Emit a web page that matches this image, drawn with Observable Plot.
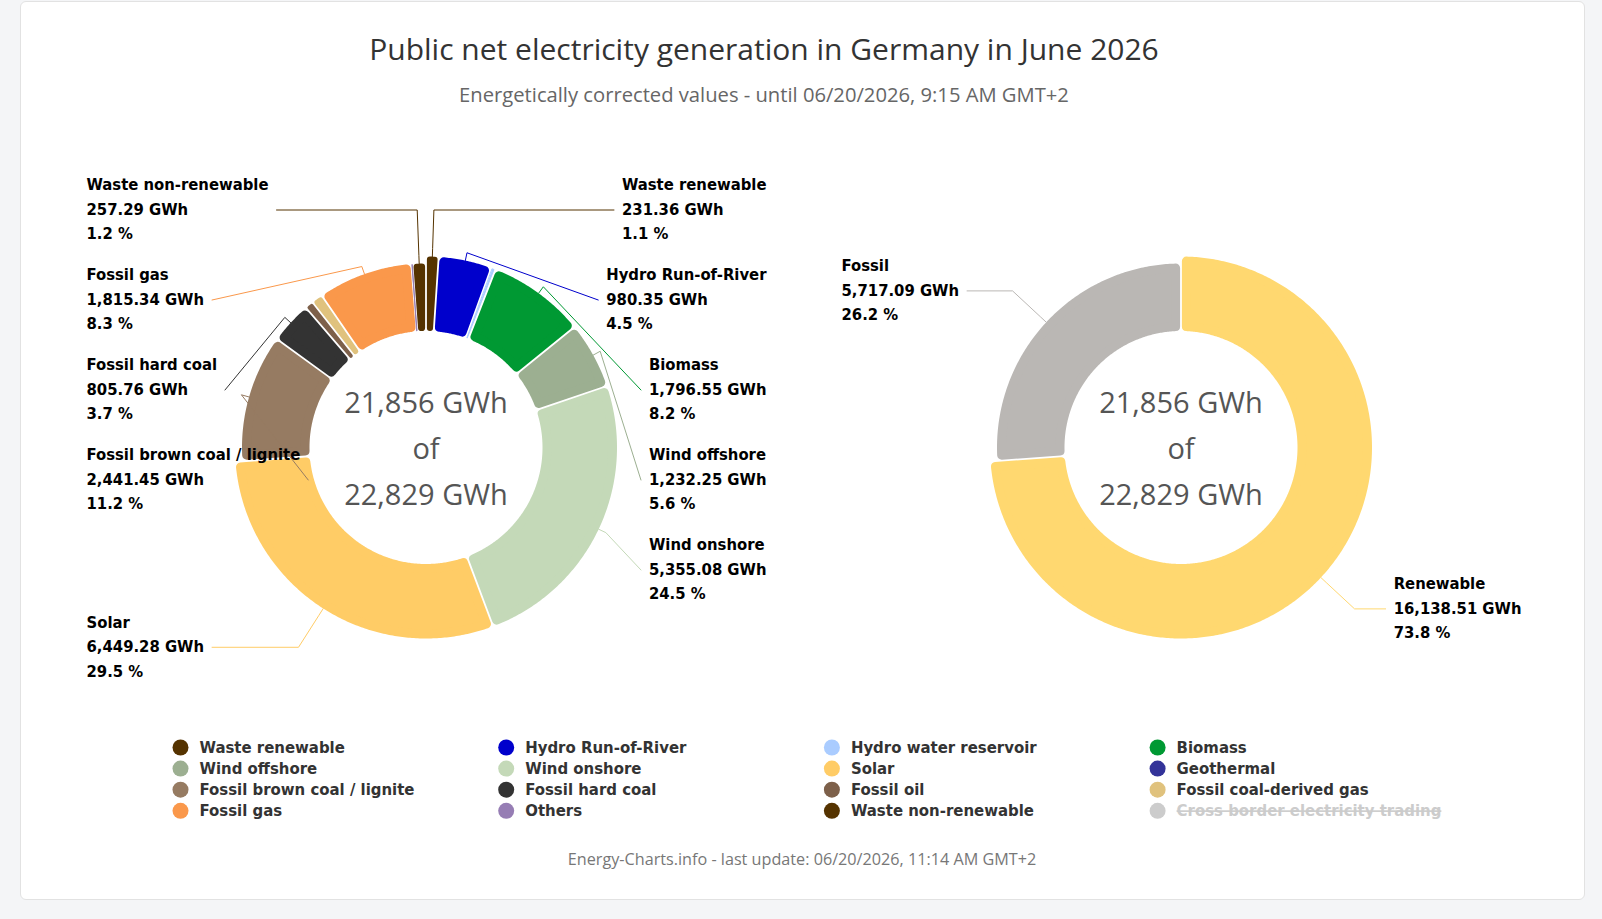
<!DOCTYPE html>
<html>
<head>
<meta charset="utf-8">
<script src="https://cdn.jsdelivr.net/npm/d3@7"></script>
<script src="https://cdn.jsdelivr.net/npm/@observablehq/plot@0.6"></script>
<style>
html, body { margin: 0; padding: 0; width: 1602px; height: 919px; overflow: hidden; background: #f4f5f7; }
#card { position: absolute; left: 20px; top: 1px; width: 1565px; height: 899px; background: #fff; border: 1px solid #e2e2e2; border-radius: 6px; box-sizing: border-box; }
#title { position: absolute; left: 0; width: 1528px; top: 29px; line-height: 40px; text-align: center; font-family: "Open Sans", sans-serif; font-size: 30px; color: #333; white-space: nowrap; }
#subtitle { position: absolute; left: 0; width: 1528px; top: 80px; line-height: 28px; text-align: center; font-family: "Open Sans", sans-serif; font-size: 20.2px; color: #666; white-space: nowrap; }
#chart { position: absolute; left: 0; top: 130px; }
#caption { position: absolute; left: 0; width: 1604px; top: 848px; line-height: 22px; text-align: center; font-family: "Open Sans", sans-serif; font-size: 16.2px; color: #777; white-space: nowrap; }
</style>
</head>
<body>
<div id="card"></div>
<div id="title">Public net electricity generation in Germany in June 2026</div>
<div id="subtitle">Energetically corrected values - until 06/20/2026, 9:15 AM GMT+2</div>
<div id="chart"></div>
<div id="caption">Energy-Charts.info - last update: 06/20/2026, 11:14 AM GMT+2</div>
<script>
// ---------------- data ----------------
const categories = ["Waste renewable", "Hydro Run-of-River", "Hydro water reservoir", "Biomass", "Wind offshore", "Wind onshore", "Solar", "Geothermal", "Fossil brown coal / lignite", "Fossil hard coal", "Fossil oil", "Fossil coal-derived gas", "Fossil gas", "Others", "Waste non-renewable"];
const generationGWh = [231.36, 980.35, 83.54, 1796.55, 1232.25, 5355.08, 6449.28, 10.10, 2441.45, 805.76, 162.00, 215.00, 1815.34, 20.65, 257.29];
const isRenewable = [1, 1, 1, 1, 1, 1, 1, 1, 0, 0, 0, 0, 0, 0, 0];
const sliceColors = ["#553300", "#0000cc", "#aaccff", "#009933", "#9caf91", "#c4d9b8", "#ffcc66", "#333399", "#967b62", "#333333", "#7d604a", "#e0c27d", "#fa984b", "#967db4", "#553300"];

const groupNames = ["Renewable", "Fossil"];
const groupGWh = [16138.51, 5717.09];
const groupIsRenewable = [1, 0];
const groupColors = ["#ffd870", "#bab7b4"];

const totalWithTradingGWh = 22829;

const legendNames = ["Waste renewable", "Hydro Run-of-River", "Hydro water reservoir", "Biomass",
  "Wind offshore", "Wind onshore", "Solar", "Geothermal",
  "Fossil brown coal / lignite", "Fossil hard coal", "Fossil oil", "Fossil coal-derived gas",
  "Fossil gas", "Others", "Waste non-renewable", "Cross border electricity trading"];
const legendColors = ["#553300", "#0000cc", "#aaccff", "#009933",
  "#9caf91", "#c4d9b8", "#ffcc66", "#333399",
  "#967b62", "#333333", "#7d604a", "#e0c27d",
  "#fa984b", "#967db4", "#553300", "#cccccc"];
const legendHidden = ["Cross border electricity trading"];

// ---------------- layout / style ----------------
const W = 1602, TOP = 130, H = 712;
const R_IN = 116.5, R_REN = 191, R_FOS = 184;
const GAP = 1.8, CORNER = 4.5;
const LABEL_DIST = 46, BREAK = 8, LABEL_STEP = 90, LABEL_MIN_Y = 209.5, LABEL_MAX_Y = 700;
const LABEL_FS = 16.5, LABEL_FAMILY = "DejaVu Sans Condensed";
const LABEL_FONT = `bold ${LABEL_FS}px "${LABEL_FAMILY}"`;
const LEG_X0 = 180, LEG_DX = 325.7, LEG_Y0 = 747, LEG_DY = 21.1;

const fmtV = d3.format(",.2f"), fmtP = d3.format(".1f"), fmtT = d3.format(",.0f");

const ctx = document.createElement("canvas").getContext("2d");
function textWidth(s, font) { ctx.font = font; return ctx.measureText(s).width; }

const charts = [
  { cx: 425.5, cy: 447, left: 86, right: 766,
    items: categories.map((name, i) => ({ name, value: generationGWh[i], color: sliceColors[i], ro: isRenewable[i] ? R_REN : R_FOS })) },
  { cx: 1180.5, cy: 447, left: 841, right: 1521,
    items: groupNames.map((name, i) => ({ name, value: groupGWh[i], color: groupColors[i], ro: groupIsRenewable[i] ? R_REN : R_FOS })) }
];

function slicePolygon(cx, cy, a0, a1, ri, ro) {
  const span = a1 - a0;
  const innerWidth = span * ri - GAP;
  let c = Math.max(0.5, Math.min(CORNER, innerWidth / 2));
  let collapsed = false;
  const rO = ro - c, rI = ri + c;
  const bounds = rho => {
    const d = (GAP / 2 + c) / rho;
    let b0 = a0 + d, b1 = a1 - d;
    if (b1 < b0) { b0 = b1 = (a0 + a1) / 2; collapsed = true; }
    return [b0, b1];
  };
  const [o0, o1] = bounds(rO), [i0, i1] = bounds(rI);
  const n = Math.max(1, Math.ceil(span * ro / 2));
  const pts = [];
  for (let k = 0; k <= n; k++) { const a = o0 + (o1 - o0) * k / n; pts.push({ x: cx + rO * Math.sin(a), y: cy - rO * Math.cos(a) }); }
  for (let k = n; k >= 0; k--) { const a = i0 + (i1 - i0) * k / n; pts.push({ x: cx + rI * Math.sin(a), y: cy - rI * Math.cos(a) }); }
  let sw = 2 * c;
  if (collapsed && innerWidth < 0) sw = Math.min(1, span * ro * 0.9);
  return { pts, sw };
}

function distribute(list, minY, maxY, size) {
  list.sort((a, b) => a.ny - b.ny);
  const groups = list.map(d => ({ items: [d] }));
  const place = g => {
    const mean = d3.mean(g.items, d => d.ny);
    let p = mean - (g.items.length - 1) * size / 2;
    p = Math.max(minY, Math.min(maxY - (g.items.length - 1) * size, p));
    g.pos = p;
  };
  groups.forEach(place);
  let merged = true;
  while (merged) {
    merged = false;
    for (let i = 0; i < groups.length - 1; i++) {
      const a = groups[i], b = groups[i + 1];
      if (a.pos + a.items.length * size > b.pos + 1e-6) {
        a.items = a.items.concat(b.items); groups.splice(i + 1, 1); place(a); merged = true; break;
      }
    }
  }
  groups.forEach(g => g.items.forEach((d, k) => d.y = g.pos + k * size));
}

const sliceMarks = [], connectorMarks = [], labelRows = [], centerRows = [];

charts.forEach(ch => {
  const total = d3.sum(ch.items, d => d.value);
  const arcs = d3.pie().sort(null).value(d => d.value)(ch.items);
  arcs.forEach(a => {
    const { pts, sw } = slicePolygon(ch.cx, ch.cy, a.startAngle, a.endAngle, R_IN, a.data.ro);
    if (sw < 0.6) return;
    sliceMarks.push(Plot.line(pts, { x: "x", y: "y", curve: "linear-closed", fill: a.data.color, stroke: a.data.color, strokeWidth: sw, strokeLinejoin: "round" }));
  });
  const labs = arcs.filter(a => a.data.value / total * 100 >= 1).map(a => {
    const m = (a.startAngle + a.endAngle) / 2, s = Math.sin(m), co = Math.cos(m), r = a.data.ro, R = r + LABEL_DIST;
    return { arc: a, s, co, r, ny: ch.cy - R * co, side: s >= 0 ? "right" : "left",
      lines: [a.data.name, fmtV(a.data.value) + " GWh", fmtP(a.data.value / total * 100) + " %"] };
  });
  for (const side of ["left", "right"]) distribute(labs.filter(d => d.side === side), LABEL_MIN_Y, LABEL_MAX_Y, LABEL_STEP);
  labs.forEach(d => {
    const w = d3.max(d.lines, l => textWidth(l, LABEL_FONT));
    const bx = d.side === "left" ? ch.left : ch.right - w;
    const ax = d.side === "left" ? bx + w + 8 : bx - 8;
    const brk = { x: ch.cx + (d.r + BREAK) * d.s, y: ch.cy - (d.r + BREAK) * d.co };
    const touch = { x: ch.cx + d.r * d.s, y: ch.cy - d.r * d.co };
    const path = [{ x: ax, y: d.y }];
    const t = (ch.cy - d.y) / d.co;
    if (t > d.r + BREAK) {
      const kx = ch.cx + t * d.s;
      if (d.side === "left" ? (kx >= ax && kx <= brk.x) : (kx <= ax && kx >= brk.x)) path.push({ x: kx, y: d.y });
    }
    path.push(brk, touch);
    connectorMarks.push(Plot.line(path, { x: "x", y: "y", stroke: d.arc.data.color, strokeWidth: 1, curve: "linear" }));
    labelRows.push({ x: bx, y: d.y, text: d.lines.join("\n") });
  });
  centerRows.push({ x: ch.cx, y: ch.cy - 3.5, text: fmtT(total) + " GWh\nof\n" + fmtT(totalWithTradingGWh) + " GWh" });
});

const legendRows = legendNames.map((name, i) => ({
  name, color: legendColors[i],
  x: LEG_X0 + (i % 4) * LEG_DX, y: LEG_Y0 + Math.floor(i / 4) * LEG_DY,
  hidden: legendHidden.includes(name)
}));

const plot = Plot.plot({
  width: W, height: H, margin: 0,
  style: { background: "none", overflow: "visible" },
  x: { domain: [0, W], range: [0, W], axis: null },
  y: { domain: [TOP, TOP + H], range: [0, H], axis: null },
  color: { type: "identity" },
  marks: [
    ...sliceMarks,
    ...connectorMarks,
    Plot.text(labelRows, { x: "x", y: "y", dy: -3, text: "text", textAnchor: "start", lineAnchor: "middle", lineHeight: 24.5 / LABEL_FS,
      fontSize: LABEL_FS, fontWeight: "bold", fontFamily: LABEL_FAMILY, fill: "#000" }),
    Plot.text(centerRows, { x: "x", y: "y", text: "text", textAnchor: "middle", lineAnchor: "middle", lineHeight: 46 / 29,
      fontSize: 29, fontFamily: "Open Sans", fill: "#555" }),
    Plot.dot(legendRows, { x: "x", y: "y", r: 8, fill: "color", stroke: null }),
    Plot.text(legendRows, { x: d => d.x + 19, y: "y", text: "name", textAnchor: "start", fontSize: 16.6, fontWeight: "bold",
      fontFamily: LABEL_FAMILY, fill: d => d.hidden ? "#cccccc" : "#333333" })
  ]
});
plot.querySelectorAll("text").forEach(t => {
  if (legendHidden.includes(t.textContent)) t.style.textDecoration = "line-through";
});
document.getElementById("chart").appendChild(plot);
</script>
</body>
</html>
